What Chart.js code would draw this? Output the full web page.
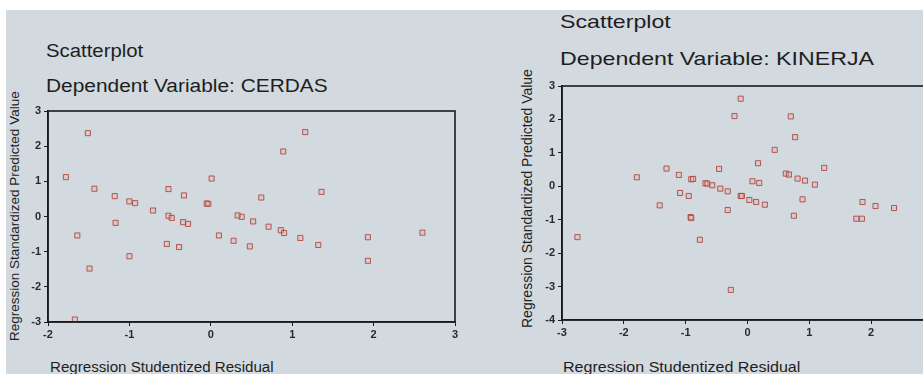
<!DOCTYPE html>
<html>
<head>
<meta charset="utf-8">
<script src="https://cdn.jsdelivr.net/npm/chart.js@4/dist/chart.umd.min.js"></script>
<style>
    html, body { margin: 0; padding: 0; }
    body {
        width: 923px; height: 374px; overflow: hidden; position: relative;
        background: #ffffff; font-family: "Liberation Sans", Arial, sans-serif; color: #1e1e1e;
    }
    #paper { position: absolute; left: 6px; top: 10px; right: 0; bottom: 0; background: #d2d9df; }
    .txt { position: absolute; white-space: nowrap; transform-origin: left center; }
    .ytitle { position: absolute; white-space: nowrap; transform-origin: left top; transform: rotate(-90deg); }
    canvas { position: absolute; }
</style>
</head>
<body>
<div id="paper"></div>

<!-- left panel texts -->
<div class="txt" style="left:46px; top:41px; font-size:18px; transform:scaleX(1.13);">Scatterplot</div>
<div class="txt" style="left:46px; top:76px; font-size:18px; transform:scaleX(1.16);">Dependent Variable: CERDAS</div>
<div class="ytitle" style="left:7px; top:341px; font-size:13.5px;">Regression Standardized Predicted Value</div>
<div class="txt" style="left:50px; top:359px; font-size:14px; transform:scaleX(1.08);">Regression Studentized Residual</div>

<!-- right panel texts -->
<div class="txt" style="left:560px; top:11px; font-size:19px; transform:scaleX(1.22);">Scatterplot</div>
<div class="txt" style="left:560px; top:48px; font-size:19px; transform:scaleX(1.22);">Dependent Variable: KINERJA</div>
<div class="ytitle" style="left:519px; top:328px; font-size:14px;">Regression Standardized Predicted Value</div>
<div class="txt" style="left:563px; top:358px; font-size:15px; transform:scaleX(1.07);">Regression Studentized Residual</div>

<canvas id="cerdasChart" style="left:0; top:0;" width="470" height="374"></canvas>
<canvas id="kinerjaChart" style="left:500px; top:0;" width="450" height="374"></canvas>

<script>
// CERDAS: studentized residual (x) vs standardized predicted value (y)
const cerdasResidual = [-1.78, -1.51, -1.64, -1.43, -1.49, -1.67, -1.18, -1.17, -1.00, -0.93,
    -1.00, -0.71, -0.52, -0.52, -0.48, -0.54, -0.39, -0.33, -0.34, -0.28,
    -0.05, -0.03, 0.01, 0.10, 0.28, 0.33, 0.38, 0.52, 0.62, 0.48,
    0.71, 0.86, 0.90, 0.89, 1.10, 1.16, 1.32, 1.36, 1.93, 1.93, 2.60];
const cerdasPredicted = [1.12, 2.37, -0.54, 0.79, -1.48, -2.93, 0.58, -0.18, 0.43, 0.38,
    -1.13, 0.17, 0.78, 0.02, -0.04, -0.78, -0.87, 0.60, -0.16, -0.21,
    0.37, 0.36, 1.08, -0.54, -0.69, 0.03, -0.01, -0.14, 0.54, -0.85,
    -0.29, -0.39, -0.47, 1.85, -0.61, 2.40, -0.81, 0.70, -0.59, -1.26, -0.46];

// KINERJA
const kinerjaResidual = [-2.75, -1.79, -1.31, -1.42, -1.11, -1.09, -0.95, -0.91, -0.88, -0.92,
    -0.91, -0.77, -0.68, -0.65, -0.57, -0.46, -0.44, -0.32, -0.32, -0.11,
    -0.21, -0.27, -0.11, -0.09, 0.03, 0.14, 0.28, 0.08, 0.19, 0.17,
    0.44, 0.70, 0.77, 0.62, 0.67, 0.81, 0.93, 1.09, 1.24, 0.89,
    0.75, 1.86, 2.07, 2.37, 1.76, 1.85];
const kinerjaPredicted = [-1.52, 0.27, 0.53, -0.57, 0.34, -0.20, -0.29, 0.21, 0.22, -0.92,
    -0.95, -1.60, 0.09, 0.08, 0.03, 0.52, -0.07, -0.15, -0.71, 2.62,
    2.10, -3.10, -0.29, -0.29, -0.41, -0.47, -0.55, 0.15, 0.10, 0.69,
    1.09, 2.09, 1.47, 0.38, 0.35, 0.23, 0.17, 0.05, 0.55, -0.39,
    -0.88, -0.47, -0.59, -0.65, -0.97, -0.97];

// axis ranges as in the SPSS output
const cerdasX = [-2, 3];
const cerdasY = [-3, 3];
const kinerjaX = [-3, 3];
const kinerjaY = [-4, 3];

// draws the closed box round the plot area
const framePlugin = {
    id: 'frame',
    afterDraw(chart) {
        const a = chart.chartArea;
        const ctx = chart.ctx;
        ctx.save();
        ctx.strokeStyle = '#1a1a1a';
        ctx.lineWidth = 1.6;
        ctx.strokeRect(a.left, a.top, a.right - a.left, a.bottom - a.top);
        ctx.restore();
    }
};

function makeChart(id, xs, ys, xRange, yRange, pad) {
    const points = xs.map((x, i) => ({ x: x, y: ys[i] }));
    const tickFont = { family: '"Liberation Sans", Arial, sans-serif', size: 11, weight: 'bold' };
    return new Chart(document.getElementById(id).getContext('2d'), {
        type: 'scatter',
        data: {
            datasets: [{
                data: points,
                pointStyle: 'rect',
                pointRadius: 3.6,
                pointBorderWidth: 1,
                borderColor: 'rgba(175,65,55,0.85)',
                backgroundColor: 'rgba(220,175,170,0.35)'
            }]
        },
        options: {
            responsive: false,
            animation: false,
            layout: { padding: pad },
            plugins: { legend: { display: false }, tooltip: { enabled: false } },
            scales: {
                x: {
                    min: xRange[0], max: xRange[1],
                    ticks: { stepSize: 1, color: '#2a2a2a', font: tickFont, padding: 2 },
                    grid: { drawOnChartArea: false, drawTicks: true, tickLength: 4, color: '#1a1a1a' },
                    border: { display: true, color: '#1a1a1a', width: 1.6 },
                    afterFit: function(scale) { scale.height = 30; }
                },
                y: {
                    min: yRange[0], max: yRange[1],
                    ticks: { stepSize: 1, color: '#2a2a2a', font: tickFont, padding: 3 },
                    grid: { drawOnChartArea: false, drawTicks: true, tickLength: 4, color: '#1a1a1a' },
                    border: { display: true, color: '#1a1a1a', width: 1.6 },
                    afterFit: function(scale) { scale.width = 40; }
                }
            }
        },
        plugins: [framePlugin]
    });
}

document.addEventListener("DOMContentLoaded", function() {
    makeChart('cerdasChart', cerdasResidual, cerdasPredicted, cerdasX, cerdasY,
        { left: 8, top: 111, right: 15, bottom: 22 });
    makeChart('kinerjaChart', kinerjaResidual, kinerjaPredicted, kinerjaX, kinerjaY,
        { left: 22, top: 86, right: 17, bottom: 24 });
});
</script>
</body>
</html>
